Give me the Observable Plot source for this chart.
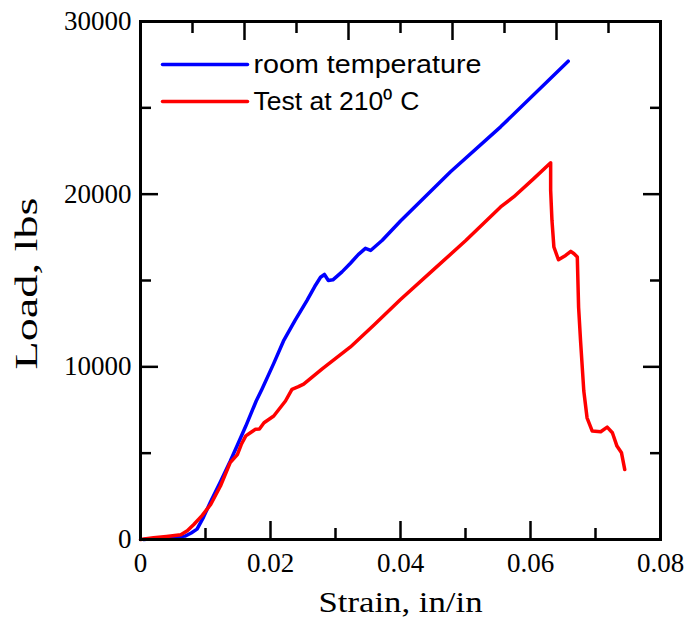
<!DOCTYPE html>
<html>
<head>
<meta charset="utf-8">
<script src="https://cdn.jsdelivr.net/npm/d3@7"></script>
<script src="https://cdn.jsdelivr.net/npm/@observablehq/plot@0.6"></script>
<style>
  html, body { margin: 0; padding: 0; background: #fff; }
</style>
</head>
<body>
<div id="chart"></div>
<script>
// Load–strain curves: room temperature vs. 210 °C test
const roomStrain = [0.0005, 0.003, 0.0054, 0.0069, 0.0078, 0.0087, 0.0097, 0.0108, 0.0123, 0.0138,
  0.0150, 0.0162, 0.0178, 0.0187, 0.0205, 0.0220, 0.0238, 0.0256, 0.0268, 0.0277,
  0.0283, 0.0289, 0.0296, 0.0310, 0.0323, 0.0335, 0.0346, 0.0354, 0.0372, 0.0400,
  0.0477, 0.0554, 0.0658];
const roomLoad = [0, 80, 150, 200, 380, 600, 1300, 2200, 3350, 4530,
  5550, 6570, 8020, 8720, 10200, 11500, 12700, 13840, 14650, 15190,
  15350, 15000, 15040, 15500, 16000, 16500, 16860, 16740, 17330, 18450,
  21300, 23900, 27700];

const hotStrain = [0, 0.002, 0.004, 0.0062, 0.0072, 0.0082, 0.0095, 0.0108, 0.0123, 0.0138,
  0.0149, 0.0155, 0.0162, 0.0169, 0.0177, 0.0183, 0.0190, 0.0205, 0.0223, 0.0233,
  0.0243, 0.0251, 0.0280, 0.0323, 0.0360, 0.0400, 0.0450, 0.0500, 0.0554, 0.0574,
  0.0605, 0.0631, 0.0631, 0.0633, 0.0636, 0.0643, 0.0654, 0.0662, 0.0667, 0.0672,
  0.0674, 0.0677, 0.0682, 0.0687, 0.0695, 0.0708, 0.0718, 0.0726, 0.0733, 0.0740,
  0.0745];
const hotLoad = [0, 100, 180, 270, 500, 870, 1400, 2030, 3100, 4450,
  4920, 5500, 6000, 6180, 6390, 6400, 6760, 7150, 8020, 8700,
  8850, 9000, 9900, 11150, 12450, 13900, 15600, 17300, 19260, 19840,
  20900, 21820, 20230, 18490, 16940, 16200, 16450, 16690, 16550, 16360,
  13450, 11510, 8600, 7050, 6280, 6240, 6510, 6180, 5410, 5020,
  4050];

const seriesNames = ["room temperature", "Test at 210\u2070 C"];
const seriesColors = ["#0000ff", "#ff0000"];
const xTitle = "Strain, in/in";
const yTitle = "Load, lbs";

// Tick values
const xMajor = [0, 0.02, 0.04, 0.06, 0.08];
const xMinor = [0.01, 0.03, 0.05, 0.07];
const topMajor = [0.016, 0.032, 0.048, 0.064];
const topMinor = [0.008, 0.024, 0.04, 0.056, 0.072];
const yMajor = [0, 10000, 20000, 30000];
const yMinor = [5000, 15000, 25000];

const room = roomStrain.map((x, i) => ({x, y: roomLoad[i]}));
const hot = hotStrain.map((x, i) => ({x, y: hotLoad[i]}));

const serif = "'Liberation Serif', 'Times New Roman', serif";
const sans = "'Liberation Sans', Arial, sans-serif";
const fmtX = d => d === 0 ? "0" : d.toFixed(2);
const fmtY = d => String(d);

// widened text runs (pixels along the baseline)
const stretched = new Map([
  [seriesNames[0], 228],
  [seriesNames[1], 166],
  [xTitle, 164],
  [yTitle, 172]
]);

const tickOpts = {fill: "none", strokeWidth: 2.5};
const lineShape = {draw(context, l) { context.moveTo(0, 0); context.lineTo(0, -l); }};

const legendMarks = seriesNames.flatMap((name, i) => [
  Plot.vector([name], {
    frameAnchor: "top-left", dx: 22, dy: 43 + i * 37,
    length: 85, rotate: 90, anchor: "start", shape: lineShape,
    stroke: seriesColors[i], strokeWidth: 3.5
  }),
  Plot.text([name], {
    frameAnchor: "top-left", dx: 113, dy: 43 + i * 37,
    textAnchor: "start", lineAnchor: "middle",
    fontFamily: sans, fontSize: 25, fill: "black"
  })
]);

const chart = Plot.plot({
  width: 686,
  height: 617,
  marginLeft: 140,
  marginRight: 26,
  marginTop: 21,
  marginBottom: 78,
  style: {background: "white", color: "black"},
  x: {domain: [0, 0.08]},
  y: {domain: [0, 30000]},
  marks: [
    Plot.line(room, {x: "x", y: "y", stroke: seriesColors[0], strokeWidth: 3.5}),
    Plot.line(hot, {x: "x", y: "y", stroke: seriesColors[1], strokeWidth: 3.5}),
    // inward ticks on all four sides
    Plot.axisX(xMajor, {anchor: "bottom", tickSize: -18, ...tickOpts, label: null}),
    Plot.axisX(xMinor, {anchor: "bottom", tickSize: -11, ...tickOpts, label: null}),
    Plot.axisX(topMajor, {anchor: "top", tickSize: -18, ...tickOpts, label: null}),
    Plot.axisX(topMinor, {anchor: "top", tickSize: -11, ...tickOpts, label: null}),
    Plot.axisY(yMajor, {anchor: "left", tickSize: -18, ...tickOpts, label: null}),
    Plot.axisY(yMinor, {anchor: "left", tickSize: -11, ...tickOpts, label: null}),
    Plot.axisY(yMajor, {anchor: "right", tickSize: -18, ...tickOpts, label: null}),
    Plot.axisY(yMinor, {anchor: "right", tickSize: -11, ...tickOpts, label: null}),
    // tick labels
    Plot.axisX(xMajor, {anchor: "bottom", tickSize: 0, tickPadding: 13, tickFormat: fmtX,
      fontFamily: serif, fontSize: 27, label: null}),
    Plot.axisY(yMajor, {anchor: "left", tickSize: 0, tickPadding: 9, tickFormat: fmtY,
      fontFamily: serif, fontSize: 27, label: null}),
    Plot.frame({stroke: "black", strokeWidth: 3}),
    // axis titles
    Plot.text([xTitle], {frameAnchor: "bottom", dy: 63, textAnchor: "middle", lineAnchor: "middle",
      fontFamily: serif, fontSize: 30, fill: "black"}),
    Plot.text([yTitle], {frameAnchor: "left", dx: -113, dy: 3, rotate: -90,
      textAnchor: "middle", lineAnchor: "middle",
      fontFamily: serif, fontSize: 31, fill: "black"}),
    ...legendMarks
  ]
});

d3.select(chart).selectAll("text").each(function () {
  const len = stretched.get(this.textContent);
  if (len) {
    this.setAttribute("textLength", len);
    this.setAttribute("lengthAdjust", "spacingAndGlyphs");
  }
});

document.getElementById("chart").appendChild(chart);
</script>
</body>
</html>
